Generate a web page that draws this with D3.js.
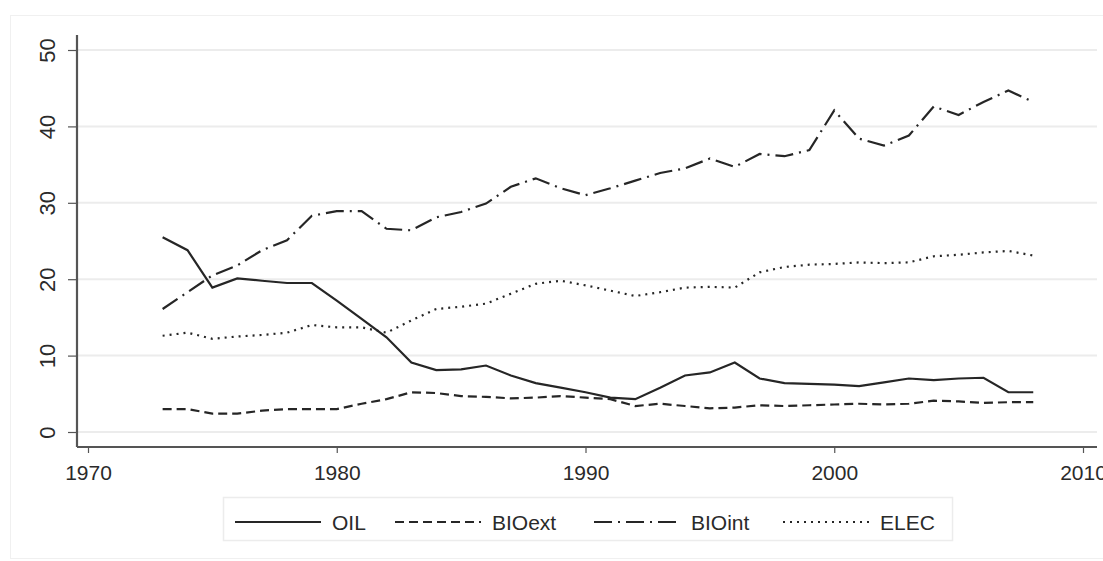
<!DOCTYPE html>
<html>
<head>
<meta charset="utf-8">
<script src="https://cdn.jsdelivr.net/npm/d3@7"></script>
<style>
  body { margin: 0; background: #fff; }
  text { font-family: "Liberation Sans", Arial, sans-serif; fill: #2a2a2a; }
</style>
</head>
<body>
<div id="chart"></div>
<script>
// Data (share, %)
const years = d3.range(1973, 2009);
const oil = [25.5, 23.8, 18.9, 20.1, 19.8, 19.5, 19.5, 17.2, 14.8, 12.4, 9.1, 8.1, 8.2, 8.7, 7.4, 6.4,
  5.8, 5.2, 4.5, 4.3, 5.8, 7.4, 7.8, 9.1, 7.0, 6.4, 6.3, 6.2, 6.0, 6.5, 7.0, 6.8, 7.0, 7.1, 5.2, 5.2];
const bioExt = [3.0, 3.0, 2.4, 2.4, 2.8, 3.0, 3.0, 3.0, 3.7, 4.3, 5.2, 5.1, 4.7, 4.6, 4.4, 4.5,
  4.7, 4.5, 4.3, 3.4, 3.7, 3.4, 3.1, 3.2, 3.5, 3.4, 3.5, 3.6, 3.7, 3.6, 3.7, 4.1, 4.0, 3.8, 3.9, 3.9];
const bioInt = [16.1, 18.3, 20.5, 21.8, 23.8, 25.1, 28.3, 28.9, 28.9, 26.6, 26.4, 28.1, 28.8, 29.9, 32.1, 33.2,
  31.9, 31.0, 31.9, 32.9, 33.9, 34.5, 35.8, 34.7, 36.4, 36.1, 36.9, 42.1, 38.4, 37.5, 38.8, 42.6, 41.5, 43.2, 44.7, 43.2];
const elec = [12.6, 13.0, 12.2, 12.5, 12.7, 13.0, 14.0, 13.7, 13.7, 13.0, 14.6, 16.1, 16.4, 16.8, 18.1, 19.4,
  19.8, 19.2, 18.5, 17.8, 18.3, 18.9, 19.0, 18.9, 20.9, 21.6, 21.9, 22.0, 22.2, 22.1, 22.2, 23.0, 23.2, 23.5, 23.7, 23.1];

const seriesNames = ["OIL", "BIOext", "BIOint", "ELEC"];
const seriesValues = [oil, bioExt, bioInt, elec];
const dashes = ["none", "9,5", "18,6,2,6", "2,5"];

const xTicks = [1970, 1980, 1990, 2000, 2010];
const yTicks = [0, 10, 20, 30, 40, 50];

const W = 1103, H = 561;
const svg = d3.select("#chart").append("svg")
    .attr("width", W).attr("height", H);

// faint outer frame
svg.append("rect").attr("x", 10.5).attr("y", 15.5).attr("width", W).attr("height", 543)
    .attr("fill", "none").attr("stroke", "#f0f0f0");

const xScale = d3.scaleLinear().domain([1970, 2010]).range([88, 1083]);
const yScale = d3.scaleLinear().domain([0, 50]).range([432, 50]);

const axisX = 77, axisY = 447;

// grid lines
svg.append("g").selectAll("line").data(yTicks).enter().append("line")
    .attr("x1", axisX).attr("x2", 1097)
    .attr("y1", d => yScale(d)).attr("y2", d => yScale(d))
    .attr("stroke", "#ececec").attr("stroke-width", 2);

// y axis
const yAxis = d3.axisLeft(yScale).tickValues(yTicks).tickSize(9);
const gy = svg.append("g").attr("transform", "translate(" + axisX + ",0)").call(yAxis);
gy.select(".domain").remove();
gy.selectAll(".tick line").attr("stroke", "#555").attr("stroke-width", 1.2);
gy.selectAll(".tick text")
    .attr("font-size", 22).attr("font-family", "Liberation Sans, Arial, sans-serif")
    .attr("fill", "#2a2a2a")
    .attr("text-anchor", "middle").attr("dy", null)
    .attr("x", 0).attr("y", 0)
    .attr("transform", "translate(-22,0) rotate(-90)");
svg.append("line").attr("x1", axisX).attr("x2", axisX).attr("y1", 35).attr("y2", axisY)
    .attr("stroke", "#555").attr("stroke-width", 2.2);

// x axis
const xAxis = d3.axisBottom(xScale).tickValues(xTicks).tickFormat(d3.format("d")).tickSize(6).tickPadding(12);
const gx = svg.append("g").attr("transform", "translate(0," + axisY + ")").call(xAxis);
gx.select(".domain").remove();
gx.selectAll(".tick line").attr("stroke", "#555").attr("stroke-width", 1.2);
gx.selectAll(".tick text").attr("font-size", 21).attr("fill", "#2a2a2a")
    .attr("font-family", "Liberation Sans, Arial, sans-serif");
svg.append("line").attr("x1", axisX).attr("x2", 1097).attr("y1", axisY).attr("y2", axisY)
    .attr("stroke", "#555").attr("stroke-width", 2.2);

// lines
const line = d3.line().x((d, i) => xScale(years[i])).y(d => yScale(d));
svg.append("g").selectAll("path").data(seriesValues).enter().append("path")
    .attr("d", line)
    .attr("fill", "none")
    .attr("stroke", "#262626")
    .attr("stroke-width", 2.2)
    .attr("stroke-dasharray", (d, i) => dashes[i]);

// legend
const legend = svg.append("g");
legend.append("rect").attr("x", 223.5).attr("y", 497.5).attr("width", 729).attr("height", 43)
    .attr("fill", "#fff").attr("stroke", "#ececec").attr("stroke-width", 1.5);
const legX = [235, 395, 594, 783];
seriesNames.forEach((name, i) => {
    const g = legend.append("g").attr("transform", "translate(" + legX[i] + ",522)");
    g.append("line").attr("x1", 0).attr("x2", 86).attr("y1", 0).attr("y2", 0)
        .attr("stroke", "#262626").attr("stroke-width", 2)
        .attr("stroke-dasharray", dashes[i]);
    g.append("text").attr("x", 97).attr("y", 8).attr("font-size", 21).text(name);
});
</script>
</body>
</html>
